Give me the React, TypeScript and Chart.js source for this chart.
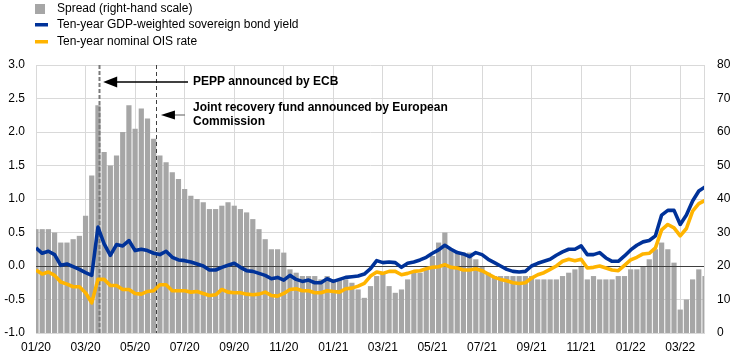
import React, { useEffect, useRef } from "react";
import { Chart, registerables } from "chart.js";

Chart.register(...registerables);

// x-axis tick labels (one every two months, starting January 2020)
const tickLabels = [
  "01/20", "03/20", "05/20", "07/20", "09/20", "11/20", "01/21",
  "03/21", "05/21", "07/21", "09/21", "11/21", "01/22", "03/22",
];

// observations per month (quarter-month sampling), x in months since 01/2020
const pointsPerMonth = 4;

// Spread (basis points, right-hand scale)
const spread = [
  31, 31, 31, 30, 27, 27, 28, 29, 35, 47, 68, 54,
  50, 53, 60, 68, 61, 67, 64, 58, 53, 51, 48, 46,
  43, 41, 40, 39, 37, 37, 38, 39, 38, 37, 36, 34,
  31, 28, 25, 25, 24, 19, 18, 17, 17, 17, 16, 17,
  16, 16, 16, 15, 13, 10.5, 14, 17, 18, 14, 12, 13,
  16, 18, 18, 19, 23, 27, 30, 25, 24, 24, 24, 22,
  20, 18, 17, 17, 17, 17, 17, 17, 17, 16, 16, 16,
  16, 17, 18, 19, 20, 16, 17, 16, 16, 16, 17, 17,
  19, 19, 20, 22, 25, 27, 25, 21, 7, 10, 16, 19, 17,
];

// Ten-year GDP-weighted sovereign bond yield (%)
const gdpYield = [
  0.27, 0.19, 0.22, 0.17, 0.01, 0.03, -0.01, -0.05, -0.1, -0.14, 0.58, 0.33,
  0.16, 0.32, 0.3, 0.38, 0.23, 0.25, 0.23, 0.19, 0.17, 0.22, 0.13, 0.09,
  0.08, 0.06, 0.03, 0.0, -0.06, -0.06, -0.02, 0.01, 0.04, -0.02, -0.07, -0.08,
  -0.11, -0.14, -0.19, -0.17, -0.21, -0.14, -0.2, -0.23, -0.21, -0.25, -0.25, -0.19,
  -0.23, -0.2, -0.17, -0.16, -0.15, -0.12, -0.04, 0.08, 0.05, 0.06, 0.05, -0.02,
  0.04, 0.06, 0.09, 0.13, 0.19, 0.24, 0.31, 0.25, 0.2, 0.18, 0.14, 0.2,
  0.17, 0.1, 0.05, 0.0, -0.05, -0.08, -0.09, -0.08, 0.0, 0.04, 0.07, 0.1,
  0.16, 0.21, 0.25, 0.25, 0.3, 0.17, 0.17, 0.2, 0.12, 0.07, 0.07, 0.15,
  0.24, 0.31, 0.36, 0.38, 0.45, 0.76, 0.83, 0.83, 0.62, 0.76, 0.97, 1.12, 1.18,
];

// Ten-year nominal OIS rate (%)
const oisRate = [
  -0.06, -0.12, -0.09, -0.14, -0.24, -0.27, -0.31, -0.31, -0.4, -0.55, -0.2, -0.2,
  -0.29, -0.29, -0.35, -0.35, -0.41, -0.42, -0.38, -0.37, -0.28, -0.28, -0.37, -0.37,
  -0.37, -0.39, -0.38, -0.41, -0.44, -0.43, -0.35, -0.39, -0.4, -0.4, -0.42, -0.43,
  -0.42, -0.39, -0.44, -0.45, -0.41, -0.35, -0.34, -0.37, -0.37, -0.4, -0.4, -0.37,
  -0.38, -0.39, -0.34, -0.33, -0.3, -0.26, -0.15, -0.09, -0.11, -0.08, -0.08, -0.13,
  -0.11, -0.08, -0.07, -0.04, -0.02, -0.01, 0.02, -0.02, -0.03, -0.06, -0.06, -0.04,
  -0.07, -0.12, -0.17, -0.2, -0.22, -0.25, -0.26, -0.25, -0.18, -0.13, -0.1, -0.05,
  0.0, 0.07, 0.1, 0.08, 0.1, -0.03, -0.02, 0.0, -0.03, -0.06, -0.07, 0.01,
  0.09, 0.13, 0.18, 0.19, 0.27, 0.54, 0.62, 0.57, 0.45, 0.56, 0.82, 0.93, 0.98,
];

// events (months since 01/2020) and their annotation texts
const eventMonths = [2.53, 4.84];
const eventTexts = [
  ["PEPP announced by ECB"],
  ["Joint recovery fund announced by European", "Commission"],
];

const legendLabels = [
  "Spread (right-hand scale)",
  "Ten-year GDP-weighted sovereign bond yield",
  "Ten-year nominal OIS rate",
];

const GREY = "#a6a6a6";
const BLUE = "#003299";
const YELLOW = "#ffb400";
const GRID = "#d9d9d9";
const FONT = '"Liberation Sans", Arial, sans-serif';

const toPoints = (arr: number[]) =>
  arr.map((v, i) => ({ x: i / pointsPerMonth, y: v }));

function drawArrow(
  ctx: CanvasRenderingContext2D,
  tipX: number,
  y: number,
  tailX: number,
  headLen: number,
  headHalf: number,
  shaftColor: string
) {
  ctx.save();
  ctx.setLineDash([]);
  ctx.strokeStyle = shaftColor;
  ctx.lineWidth = 1.3;
  ctx.beginPath();
  ctx.moveTo(tipX + headLen - 1, y);
  ctx.lineTo(tailX, y);
  ctx.stroke();
  ctx.fillStyle = "#000";
  ctx.beginPath();
  ctx.moveTo(tipX, y);
  ctx.lineTo(tipX + headLen, y - headHalf);
  ctx.lineTo(tipX + headLen, y + headHalf);
  ctx.closePath();
  ctx.fill();
  ctx.restore();
}

const overlayPlugin = {
  id: "overlay",
  afterDatasetDraw(chart: any, args: any) {
    if (args.index !== 0) return;
    const ctx: CanvasRenderingContext2D = chart.ctx;
    const { top, bottom, left, right } = chart.chartArea;
    const xs = chart.scales.x;
    const ys = chart.scales.y;
    ctx.save();
    // zero line
    const y0 = Math.round(ys.getPixelForValue(0)) + 0.5;
    ctx.strokeStyle = "#404040";
    ctx.lineWidth = 1;
    ctx.beginPath();
    ctx.moveTo(left, y0);
    ctx.lineTo(right, y0);
    ctx.stroke();
    // event lines
    eventMonths.forEach((m, i) => {
      const x = Math.round(xs.getPixelForValue(m)) + 0.5;
      ctx.beginPath();
      if (i === 0) {
        ctx.strokeStyle = "#7a7a7a";
        ctx.lineWidth = 2;
        ctx.setLineDash([4, 2]);
      } else {
        ctx.strokeStyle = "#404040";
        ctx.lineWidth = 1;
        ctx.setLineDash([4, 3]);
      }
      ctx.moveTo(x, top);
      ctx.lineTo(x, bottom);
      ctx.stroke();
    });
    ctx.restore();
  },
  afterDraw(chart: any) {
    const ctx: CanvasRenderingContext2D = chart.ctx;
    const { top, bottom, right } = chart.chartArea;
    const xs = chart.scales.x;
    ctx.save();
    // right border of plot area
    ctx.strokeStyle = GRID;
    ctx.lineWidth = 1;
    ctx.beginPath();
    ctx.moveTo(right - 0.5, top);
    ctx.lineTo(right - 0.5, bottom);
    ctx.stroke();

    // legend
    ctx.font = `12px ${FONT}`;
    ctx.fillStyle = "#000";
    ctx.textBaseline = "middle";
    ctx.textAlign = "left";
    ctx.fillStyle = GREY;
    ctx.fillRect(35, 4, 10, 10);
    ctx.fillStyle = "#000";
    ctx.fillText(legendLabels[0], 57, 9);
    ctx.fillStyle = BLUE;
    ctx.fillRect(35, 23, 13, 3.5);
    ctx.fillStyle = "#000";
    ctx.fillText(legendLabels[1], 57, 25);
    ctx.fillStyle = YELLOW;
    ctx.fillRect(35, 40, 13, 3.5);
    ctx.fillStyle = "#000";
    ctx.fillText(legendLabels[2], 57, 42);

    // annotations
    const x1 = xs.getPixelForValue(eventMonths[0]);
    const x2 = xs.getPixelForValue(eventMonths[1]);
    const textX = 193;
    drawArrow(ctx, x1 + 4.5, top + 17, textX - 5, 14, 5.5, "#000");
    drawArrow(ctx, x2 + 5, top + 50, textX - 8, 14, 4.5, "#7f7f7f");
    ctx.font = `bold 12px ${FONT}`;
    ctx.fillStyle = "#000";
    ctx.fillText(eventTexts[0][0], textX, top + 17);
    ctx.fillText(eventTexts[1][0], textX, top + 43);
    ctx.fillText(eventTexts[1][1], textX, top + 57);
    ctx.restore();
  },
};

export default function App() {
  const ref = useRef<HTMLCanvasElement | null>(null);

  useEffect(() => {
    if (!ref.current) return;
    const tickFont = { family: FONT, size: 12 };
    const chart = new Chart(ref.current, {
      type: "bar",
      data: {
        datasets: [
          {
            type: "bar",
            label: legendLabels[0],
            data: toPoints(spread),
            yAxisID: "y1",
            backgroundColor: GREY,
            barPercentage: 0.84,
            categoryPercentage: 1,
            order: 3,
          } as any,
          {
            type: "line",
            label: legendLabels[2],
            data: toPoints(oisRate),
            yAxisID: "y",
            borderColor: YELLOW,
            borderWidth: 3.6,
            borderJoinStyle: "round",
            pointRadius: 0,
            tension: 0,
            order: 2,
          } as any,
          {
            type: "line",
            label: legendLabels[1],
            data: toPoints(gdpYield),
            yAxisID: "y",
            borderColor: BLUE,
            borderWidth: 3.6,
            borderJoinStyle: "round",
            pointRadius: 0,
            tension: 0,
            order: 1,
          } as any,
        ],
      },
      options: {
        responsive: false,
        animation: false,
        events: [],
        layout: { padding: { top: 65, left: 0, right: 0, bottom: 0 } },
        plugins: { legend: { display: false }, tooltip: { enabled: false } },
        scales: {
          x: {
            type: "linear",
            min: 0,
            max: 27,
            offset: false,
            grid: { color: GRID, drawTicks: false, offset: false },
            border: { display: false },
            afterBuildTicks: (s: any) => {
              s.ticks = tickLabels.map((_, i) => ({ value: i * 2 }));
            },
            afterFit: (s: any) => {
              s.height = 26;
            },
            ticks: {
              autoSkip: false,
              maxRotation: 0,
              padding: 7,
              color: "#000",
              font: tickFont,
              callback: (v: any) => tickLabels[Math.round(Number(v) / 2)] ?? "",
            },
          },
          y: {
            position: "left",
            min: -1,
            max: 3,
            grid: { color: GRID, drawTicks: false },
            border: { display: false },
            afterFit: (s: any) => {
              s.width = 36;
            },
            ticks: {
              stepSize: 0.5,
              padding: 11,
              color: "#000",
              font: tickFont,
              callback: (v: any) => Number(v).toFixed(1),
            },
          },
          y1: {
            position: "right",
            min: 0,
            max: 80,
            grid: { display: false, drawTicks: false },
            border: { display: false },
            afterFit: (s: any) => {
              s.width = 37;
            },
            ticks: {
              stepSize: 10,
              padding: 12,
              color: "#000",
              font: tickFont,
            },
          },
        },
      } as any,
      plugins: [overlayPlugin],
    });
    return () => chart.destroy();
  }, []);

  return (
    <div style={{ position: "absolute", left: 0, top: 0, width: 742, height: 359, background: "#fff" }}>
      <canvas ref={ref} width={742} height={359} style={{ display: "block" }} />
    </div>
  );
}
